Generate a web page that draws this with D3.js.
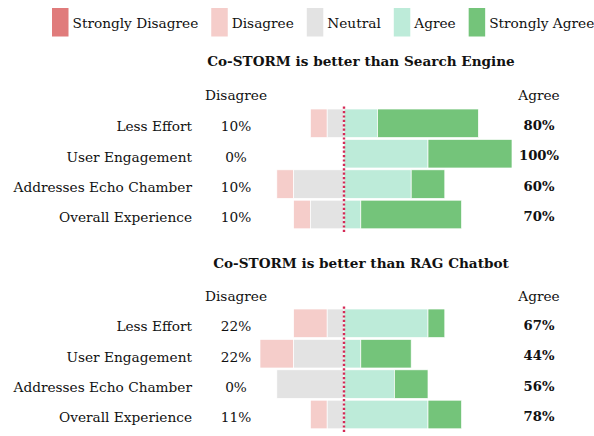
<!DOCTYPE html>
<html>
<head>
<meta charset="utf-8">
<script src="https://cdn.jsdelivr.net/npm/d3@7"></script>
<style>
  html, body { margin: 0; padding: 0; background: #fff; }
  svg { display: block; }
  text { font-family: "DejaVu Serif", serif; fill: #111; }
</style>
</head>
<body>
<svg id="chart" width="594" height="436"></svg>
<script>
// ---- data ----
const categories = ["Less Effort", "User Engagement", "Addresses Echo Chamber", "Overall Experience"];
const levels = ["Strongly Disagree", "Disagree", "Neutral", "Agree", "Strongly Agree"];
const levelColors = ["#e07b7b", "#f5cdca", "#e3e3e3", "#bdebd9", "#74c47a"];
const panelTitles = ["Co-STORM is better than Search Engine", "Co-STORM is better than RAG Chatbot"];
// counts per category: [Strongly Disagree, Disagree, Neutral, Agree, Strongly Agree]
const searchEngineCounts = [
  [0, 1, 1, 2, 6],
  [0, 0, 0, 5, 5],
  [0, 1, 3, 4, 2],
  [0, 1, 2, 1, 6]
];
const ragChatbotCounts = [
  [0, 2, 1, 5, 1],
  [0, 2, 3, 1, 3],
  [0, 0, 4, 3, 2],
  [0, 1, 1, 5, 2]
];
const panelCounts = [searchEngineCounts, ragChatbotCounts];

// ---- layout ----
const svg = d3.select("#chart");
const FS = 13.7;
const x = d3.scaleLinear().domain([-10, 10]).range([176, 512]);
const panelTop = [108.1, 308.1];
const titleY = [66, 268];
const headerY = [99.5, 301];

// legend
const legend = svg.append("g");
let lx = 52;
levels.forEach((lv, i) => {
  legend.append("rect").attr("x", lx).attr("y", 8).attr("width", 16.5).attr("height", 28.5)
    .attr("fill", levelColors[i]);
  const t = legend.append("text").attr("x", lx + 20.5).attr("y", 28.3)
    .attr("font-size", FS).text(lv);
  lx += 20.5 + t.node().getComputedTextLength() + 13;
});

panelCounts.forEach((counts, p) => {
  const g = svg.append("g");
  const y = d3.scaleBand().domain(categories)
    .range([panelTop[p], panelTop[p] + 121.6])
    .paddingInner(0.06).paddingOuter(0.03);

  g.append("text").attr("x", 361).attr("y", titleY[p]).attr("text-anchor", "middle")
    .attr("font-size", 13.6).attr("font-weight", "bold").text(panelTitles[p]);
  g.append("text").attr("x", 205).attr("y", headerY[p]).attr("font-size", FS).text("Disagree");
  g.append("text").attr("x", 539).attr("y", headerY[p]).attr("text-anchor", "middle")
    .attr("font-size", FS).text("Agree");

  categories.forEach((cat, i) => {
    const c = counts[i];
    const n = d3.sum(c);
    const segs = [
      { lvl: 0, x0: -(c[2] + c[1] + c[0]), x1: -(c[2] + c[1]) },
      { lvl: 1, x0: -(c[2] + c[1]), x1: -c[2] },
      { lvl: 2, x0: -c[2], x1: 0 },
      { lvl: 3, x0: 0, x1: c[3] },
      { lvl: 4, x0: c[3], x1: c[3] + c[4] }
    ].filter(s => s.x1 > s.x0);
    g.selectAll(null).data(segs).enter().append("rect")
      .attr("x", s => x(s.x0))
      .attr("width", s => x(s.x1) - x(s.x0))
      .attr("y", y(cat))
      .attr("height", y.bandwidth())
      .attr("fill", s => levelColors[s.lvl])
      .attr("stroke", "#fff").attr("stroke-width", 0.7);

    const cy = y(cat) + y.bandwidth() / 2;
    g.append("text").attr("x", 192).attr("y", cy + 7.8).attr("text-anchor", "end")
      .attr("font-size", FS).text(cat);
    const dis = Math.round((c[0] + c[1]) / n * 100);
    const agr = Math.round((c[3] + c[4]) / n * 100);
    g.append("text").attr("x", 236).attr("y", cy + 7.8).attr("text-anchor", "middle")
      .attr("font-size", FS).text(dis + "%");
    g.append("text").attr("x", 539).attr("y", cy + 6.5).attr("text-anchor", "middle")
      .attr("font-size", 13.2).attr("font-weight", "bold").text(agr + "%");
  });

  const r = y.range();
  g.append("line").attr("x1", x(0)).attr("x2", x(0))
    .attr("y1", r[0] - 1.5).attr("y2", r[1] + 4.5)
    .attr("stroke", "#d42a56").attr("stroke-width", 2.4)
    .attr("stroke-dasharray", "2.2,2.2");
});
</script>
</body>
</html>
